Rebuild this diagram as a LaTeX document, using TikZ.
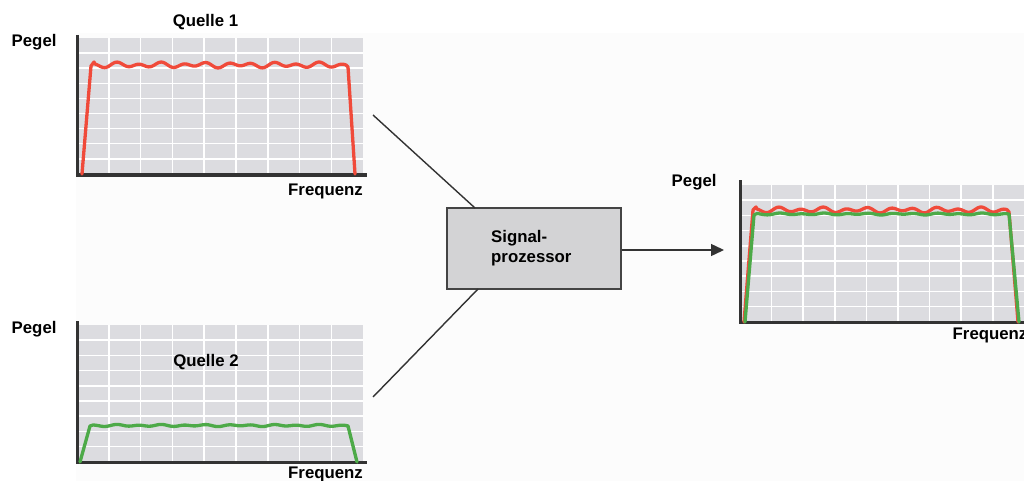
\documentclass[tikz,border=0pt]{standalone}
\usepackage{fontspec}
\setmainfont{Liberation Sans}
\usetikzlibrary{arrows.meta}
\definecolor{plotbg}{HTML}{DCDCE0}
\definecolor{axisc}{HTML}{333333}
\definecolor{redc}{HTML}{F04A3A}
\definecolor{greenc}{HTML}{4DAA48}
\definecolor{boxfill}{HTML}{D3D3D5}
\definecolor{boxline}{HTML}{444444}
\definecolor{faint}{HTML}{FCFCFC}
\tikzset{
  lbl/.style={font=\bfseries\fontsize{16.8}{20}\selectfont, inner sep=0pt, anchor=base west},
  lblc/.style={font=\bfseries\fontsize{16.8}{20}\selectfont, inner sep=0pt, anchor=base},
  bgrect/.style={fill=plotbg, draw=none},
  gridl/.style={white, line width=1.5pt},
  axisl/.style={axisc, line width=3pt},
  redl/.style={redc, line width=3.3pt, line join=round, line cap=round},
  greenl/.style={greenc, line width=3.3pt, line join=round, line cap=round},
  procbox/.style={draw=boxline, fill=boxfill, line width=1.4pt, minimum width=174pt, minimum height=81pt, inner sep=0pt},
  conn/.style={draw=axisc, line width=1.4pt},
}
\begin{document}
\begin{tikzpicture}[x=1pt,y=-1pt]
\useasboundingbox (0,0) rectangle (1024,481);
\fill[white] (0,0) rectangle (1024,481);
\fill[faint] (76,33) rectangle (1024,481);

% ---------- top-left graph (Quelle 1)
\fill[bgrect] (77,38) rectangle (363,174);
\foreach \k in {1,...,8} {
  \draw[gridl] ({77+31.8*\k},38) -- ({77+31.8*\k},174);
  \draw[gridl] (77,{38+15.1*\k}) -- (363,{38+15.1*\k});
}
\draw[axisl] (77,35) -- (77,176);
\draw[axisl] (76,175) -- (367,175);
\draw[redl] (82,174) -- (91,66) -- (94,62)
  -- plot[domain=95:346,samples=160,smooth] (\x,{65+1.9*sin(16*(\x-94)-90)+1.1*sin(9*(\x-94)+40)})
  -- (348,67) -- (355,174);
\node[lblc] (q1) at (205.5,27) {Quelle 1};
\node[lbl] (peg1) at (11.5,47) {Pegel};
\node[lbl] (fr1) at (288,195) {Frequenz};

% ---------- bottom-left graph (Quelle 2)
\fill[bgrect] (77,325) rectangle (363,462);
\foreach \k in {1,...,8} {
  \draw[gridl] ({77+31.8*\k},325) -- ({77+31.8*\k},462);
  \draw[gridl] (77,{325+15.2*\k}) -- (363,{325+15.2*\k});
}
\draw[axisl] (77,321) -- (77,463);
\draw[axisl] (76,462) -- (367,462);
\draw[greenl] (80,462) -- (90,426) -- (93,425)
  -- plot[domain=94:346,samples=160,smooth] (\x,{425.5+0.7*sin(16*(\x-94)-90)+0.4*sin(9*(\x-94)+40)})
  -- (348,426) -- (357,462);
\node[lblc] (q2) at (206,366) {Quelle 2};
\node[lbl] (peg2) at (11.5,333) {Pegel};
\node[lbl] (fr2) at (288,478) {Frequenz};

% ---------- right graph (sum)
\fill[bgrect] (740,185) rectangle (1024,322);
\foreach \k in {1,...,8} {
  \draw[gridl] ({740+31.6*\k},185) -- ({740+31.6*\k},322);
  \draw[gridl] (740,{185+15.2*\k}) -- (1024,{185+15.2*\k});
}
\draw[axisl] (740,180) -- (740,323);
\draw[axisl] (739,322) -- (1024,322);
\draw[redl] (744,322) -- (753,210) -- (756,207)
  -- plot[domain=757:1007,samples=160,smooth] (\x,{210+1.9*sin(16*(\x-756)-90)+1.1*sin(9*(\x-756)+40)})
  -- (1009,212) -- (1018,322);
\draw[greenl] (745,322) -- (754,215) -- (757,213.5)
  -- plot[domain=758:1007,samples=160,smooth] (\x,{214+0.6*sin(16*(\x-757)-90)+0.4*sin(9*(\x-757)+40)})
  -- (1009,214) -- (1019,322);
\node[lbl] (peg3) at (671.5,186.5) {Pegel};
\node[lbl] (fr3) at (952.5,339) {Frequenz};

% ---------- signal processor
\node[procbox] (sp) at (534,248.5) {};
\node[lbl] (sptxt) at (491,242) {Signal-};
\node[lbl] (sptxt2) at (491,262) {prozessor};

\coordinate (in1) at (373,115);
\coordinate (in2) at (373,397);
\coordinate (e1) at (475,208);
\coordinate (e2) at (478,289);
\coordinate (out) at (724,250);
\draw[conn] (in1) -- (e1);
\draw[conn] (in2) -- (e2);
\draw[conn, -{Triangle[length=13pt,width=12pt]}] (sp.east |- out) -- (out);
\end{tikzpicture}
\end{document}
